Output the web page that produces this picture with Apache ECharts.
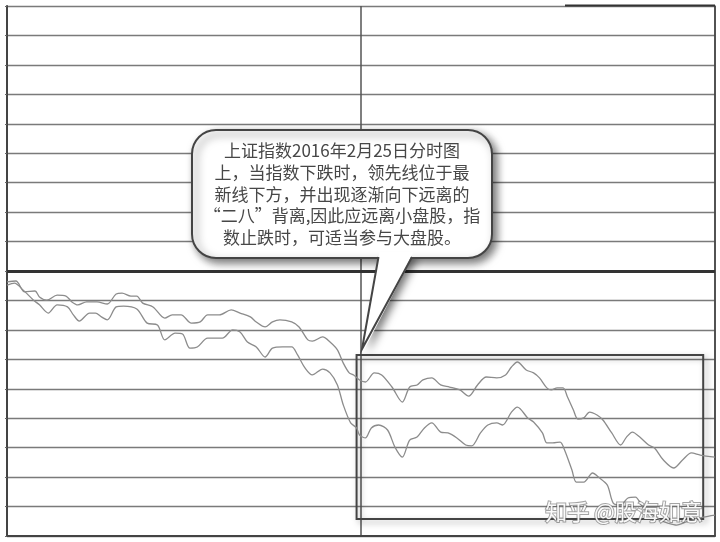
<!DOCTYPE html>
<html>
<head>
<meta charset="utf-8">
<script src="https://cdn.jsdelivr.net/npm/echarts@6/dist/echarts.min.js"></script>
<style>
html,body{margin:0;padding:0;background:#fff;}
#chart{width:720px;height:542px;}
</style>
</head>
<body>
<div id="chart"></div>
<script>
// 上证指数 2016-02-25 分时图, values in % change vs previous close, x in trading minutes (0..240)
const latestLine = [[0,-0.37],[3,-0.34],[6,-0.71],[9.5,-0.68],[11,-0.88],[13.5,-0.99],[17,-0.82],[20,-0.85],[22,-1.05],[24,-1.15],[27,-1.05],[30.5,-1.05],[34,-1.12],[37,-0.78],[39,-0.75],[42,-0.85],[44,-0.85],[46,-1.09],[49.5,-1.22],[53.5,-1.60],[56,-1.49],[59,-1.49],[62.5,-1.77],[65.5,-1.73],[68,-1.49],[72,-1.49],[76,-1.32],[79,-1.43],[82.5,-1.56],[84.5,-1.73],[87.5,-1.90],[90,-1.73],[92.5,-1.66],[96.5,-1.73],[99,-1.90],[102,-2.34],[103.5,-2.38],[107,-2.24],[109.5,-2.41],[112,-2.68],[114,-3.13],[116,-3.46],[117.5,-3.53],[119.5,-3.70],[121.5,-3.77],[124.5,-3.46],[127,-3.53],[130.5,-3.94],[134,-4.45],[136.5,-3.94],[139,-3.87],[141,-3.70],[144,-3.63],[147,-3.87],[150,-3.94],[153.5,-4.04],[156.5,-4.25],[159.5,-3.87],[162.5,-3.60],[166,-3.63],[169,-3.53],[171,-3.26],[173,-3.09],[176,-3.36],[178.5,-3.46],[180.5,-3.63],[183,-3.97],[184.5,-4.04],[186.5,-3.97],[188.5,-3.97],[190,-4.28],[192,-4.72],[193.5,-5.03],[195.5,-4.99],[197.5,-4.79],[200,-4.89],[202,-5.06],[205,-5.50],[208,-5.91],[210,-5.64],[212,-5.47],[214.5,-5.64],[217.5,-5.91],[219.5,-6.01],[222.5,-6.42],[226,-6.69],[229,-6.42],[232,-6.18],[235,-6.25],[240,-6.32]];
const leadLine = [[0,-0.48],[2.5,-0.41],[5.5,-0.65],[9,-0.99],[11,-1.15],[14,-1.43],[17,-1.15],[20.5,-1.22],[22.5,-1.49],[24.5,-1.70],[28,-1.43],[30,-1.43],[32,-1.56],[34,-1.66],[37,-1.22],[39.5,-1.19],[44,-1.29],[47.5,-1.77],[51,-1.83],[53.5,-2.34],[57,-2.11],[59.5,-2.14],[62,-2.62],[64.5,-2.58],[68,-2.28],[70,-2.28],[73,-2.28],[76.5,-2.00],[79,-2.07],[81.5,-2.41],[84.5,-2.58],[87.5,-2.92],[90,-2.62],[93.5,-2.58],[96.5,-2.58],[98.5,-2.85],[101,-3.29],[103.5,-3.53],[107,-3.33],[109.5,-3.46],[112,-3.87],[114,-4.55],[116.5,-5.16],[118.5,-5.33],[119.5,-5.57],[121.5,-5.67],[123.5,-5.33],[126,-5.23],[129,-5.40],[131.5,-5.98],[134,-6.32],[136.5,-5.74],[139,-5.64],[141.5,-5.33],[144,-5.16],[147,-5.47],[149.5,-5.50],[152.5,-5.67],[155.5,-5.91],[157.5,-5.94],[160.5,-5.50],[163,-5.23],[166,-5.16],[168,-5.23],[171,-4.79],[173,-4.62],[176.5,-4.99],[178.5,-5.13],[181.5,-5.50],[183,-5.84],[185,-5.84],[187.5,-5.81],[189,-6.08],[191.5,-6.76],[193,-7.17],[195.5,-7.17],[198.5,-6.86],[200.5,-7.00],[203.5,-7.27],[205.5,-7.88],[208,-7.95],[210.5,-7.71],[213,-7.68],[215.5,-8.02],[218,-8.22],[221.5,-8.46],[224,-8.56],[227,-8.63],[230,-8.53],[232.5,-8.46],[236,-8.36],[240,-8.29]];
// highlighted region (minutes, % change)
const boxMinutes = [118.5, 236];
const boxValues = [-2.85, -8.42];
const calloutText = '上证指数2016年2月25日分时图\n上，当指数下跌时，领先线位于最\n新线下方，并出现逐渐向下远离的\n“二八”背离,因此应远离小盘股，指\n数止跌时，可适当参与大盘股。';
const watermark = '知乎 @股海如意';

const chart = echarts.init(document.getElementById('chart'), null, {renderer: 'canvas'});
const lineColor = '#8c8c8c';
chart.setOption({
  animation: false,
  grid: {left: 7, right: 5, top: 6, bottom: 6, containLabel: false},
  xAxis: {
    type: 'value', min: 0, max: 240, interval: 120,
    axisLine: {show: true, onZero: false, lineStyle: {color: '#444', width: 2}},
    axisTick: {show: false}, axisLabel: {show: false},
    splitLine: {show: true, lineStyle: {color: '#555', width: 1.5}}
  },
  yAxis: [{
    type: 'value', min: -9, max: 9, interval: 1,
    axisLine: {show: true, lineStyle: {color: '#444', width: 2}},
    axisTick: {show: true, inside: false, length: 2, lineStyle: {color: '#666'}},
    axisLabel: {show: false},
    splitLine: {show: true, lineStyle: {color: '#7a7a7a', width: 1.4}}
  }, {
    type: 'value', min: -9, max: 9, interval: 1, position: 'right',
    axisLine: {show: true, lineStyle: {color: '#444', width: 1.5}},
    axisTick: {show: false}, axisLabel: {show: false}, splitLine: {show: false}
  }],
  series: [{
    name: '最新线', type: 'line', data: latestLine, showSymbol: false, smooth: 0.3,
    lineStyle: {color: lineColor, width: 1.3}, z: 3,
    markLine: {
      silent: true, symbol: 'none', label: {show: false},
      lineStyle: {color: '#333', width: 3, type: 'solid'},
      data: [{yAxis: 0}]
    }
  }, {
    name: '领先线', type: 'line', data: leadLine, showSymbol: false, smooth: 0.3,
    lineStyle: {color: lineColor, width: 1.3}, z: 3,
    markArea: {
      silent: true,
      itemStyle: {color: 'rgba(0,0,0,0)', borderColor: '#444', borderWidth: 2,
        shadowBlur: 6, shadowColor: 'rgba(0,0,0,0.35)', shadowOffsetX: 3, shadowOffsetY: 3},
      data: [[{xAxis: boxMinutes[0], yAxis: boxValues[0]}, {xAxis: boxMinutes[1], yAxis: boxValues[1]}]]
    }
  }],
  graphic: [
    {type: 'line', z: 50, shape: {x1: 565, y1: 5.5, x2: 715, y2: 5.5}, style: {stroke: '#333', lineWidth: 2}},
    // callout bubble body
    {type: 'rect', z: 100, shape: {x: 192, y: 130, width: 300, height: 128, r: 24},
      style: {fill: '#fff', stroke: '#444', lineWidth: 2, shadowBlur: 8, shadowColor: 'rgba(0,0,0,0.55)', shadowOffsetX: 4, shadowOffsetY: 4}},
    // tail shadow
    {type: 'polygon', z: 99, shape: {points: [[380, 254], [414, 254], [364, 350]]},
      style: {fill: '#fff', shadowBlur: 8, shadowColor: 'rgba(0,0,0,0.55)', shadowOffsetX: 4, shadowOffsetY: 3}},
    // tail fill covering body border
    {type: 'polygon', z: 101, shape: {points: [[379.5, 252], [413.5, 252], [363, 349]]},
      style: {fill: '#fff'}},
    {type: 'polyline', z: 102, shape: {points: [[378.5, 257], [362, 349], [412, 257]]},
      style: {stroke: '#444', lineWidth: 2, fill: null}},
    {type: 'text', z: 103, x: 342, y: 140,
      style: {text: calloutText, fill: '#474747', font: '17px "Noto Sans CJK SC"', textAlign: 'center', textVerticalAlign: 'top', lineHeight: 21.7}},
    {type: 'text', z: 110, x: 624, y: 512,
      style: {text: watermark, fill: 'rgba(255,255,255,0.95)', stroke: 'rgba(90,90,90,0.55)', lineWidth: 2,
        font: '22px "Noto Sans CJK SC"', textAlign: 'center', textVerticalAlign: 'middle'}}
  ]
});
</script>
</body>
</html>
